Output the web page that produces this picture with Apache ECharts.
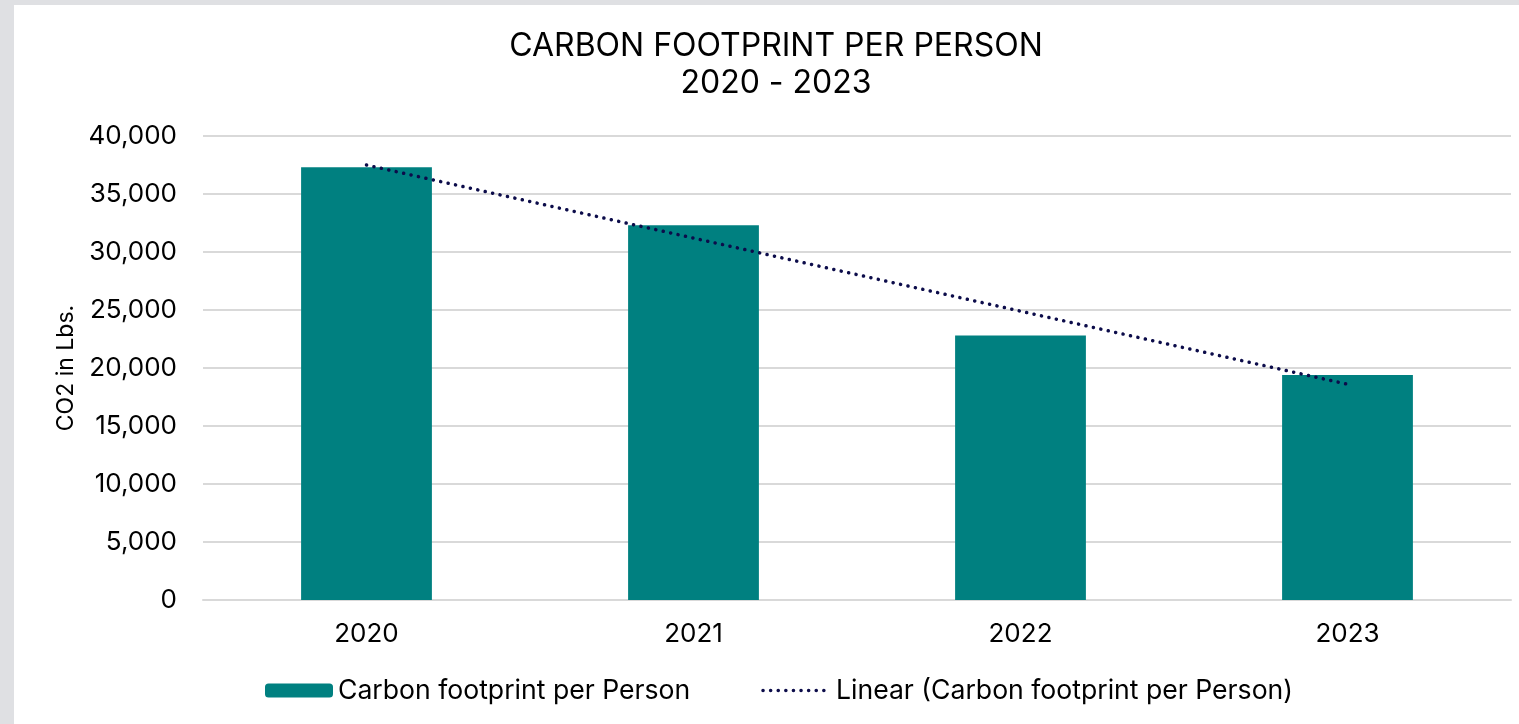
<!DOCTYPE html>
<html>
<head>
<meta charset="utf-8" />
<script src="https://cdn.jsdelivr.net/npm/echarts@6/dist/echarts.min.js"></script>
<style>
	html, body { margin: 0; padding: 0; background: #dfe0e3; overflow: hidden; }
	#main { position: absolute; left: 14px; top: 5px; width: 1505px; height: 719px; background: #fff; }
</style>
</head>
<body>
<div id="main"></div>
<script type="text/javascript">
	// 数据
	var years = ['2020', '2021', '2022', '2023'];
	var footprint = [37300, 32300, 22800, 19400];
	var trend = [37500, 31200, 24900, 18600]; // 线性趋势线
	var yTicks = { min: 0, max: 40000, interval: 5000 };

	var font = 'Inter, "Noto Sans", sans-serif';
	var trendColor = '#0c0c4a';
	var dots = { color: trendColor, width: 3.5, type: [0.1, 7.5], cap: 'round' };
	var myChart = echarts.init(document.getElementById('main'));

	var option = {
		animation: false,
		textStyle: { fontFamily: font },
		title: {
			text: 'CARBON FOOTPRINT PER PERSON\n2020 - 2023',
			left: 757,
			top: 18,
			textAlign: 'center',
			textStyle: { fontFamily: font, fontSize: 32, fontWeight: 'normal', color: '#000', lineHeight: 37 }
		},
		legend: {
			bottom: 15,
			left: 246,
			itemWidth: 68,
			itemHeight: 14,
			itemGap: 71,
			textStyle: { fontFamily: font, fontSize: 26.6, color: '#000' },
			data: [
				'Carbon footprint per Person',
				{ name: 'Linear (Carbon footprint per Person)', itemStyle: { opacity: 0 }, lineStyle: dots }
			]
		},
		grid: { left: 189, right: 8, top: 131, bottom: 124 },
		xAxis: {
			type: 'category',
			data: years,
			axisTick: { show: false },
			axisLine: { lineStyle: { color: '#d9d9d9', width: 2 } },
			axisLabel: { fontFamily: font, fontSize: 26, color: '#000', margin: 21 }
		},
		yAxis: {
			type: 'value',
			min: yTicks.min,
			max: yTicks.max,
			interval: yTicks.interval,
			name: 'CO2 in Lbs.',
			nameLocation: 'middle',
			nameGap: 125,
			nameTextStyle: { fontFamily: font, fontSize: 23, color: '#000' },
			axisLabel: {
				fontFamily: font, fontSize: 26, color: '#000', margin: 26,
				formatter: function (v) { return v.toLocaleString('en-US'); }
			},
			splitLine: { lineStyle: { color: '#d9d9d9', width: 2 } }
		},
		series: [{
			name: 'Carbon footprint per Person',
			type: 'bar',
			data: footprint,
			barWidth: '40%',
			itemStyle: { color: '#008080' }
		}, {
			name: 'Linear (Carbon footprint per Person)',
			type: 'line',
			data: trend,
			symbol: 'none',
			z: 5,
			lineStyle: dots,
			itemStyle: { color: trendColor }
		}]
	};

	myChart.setOption(option);
</script>
</body>
</html>
